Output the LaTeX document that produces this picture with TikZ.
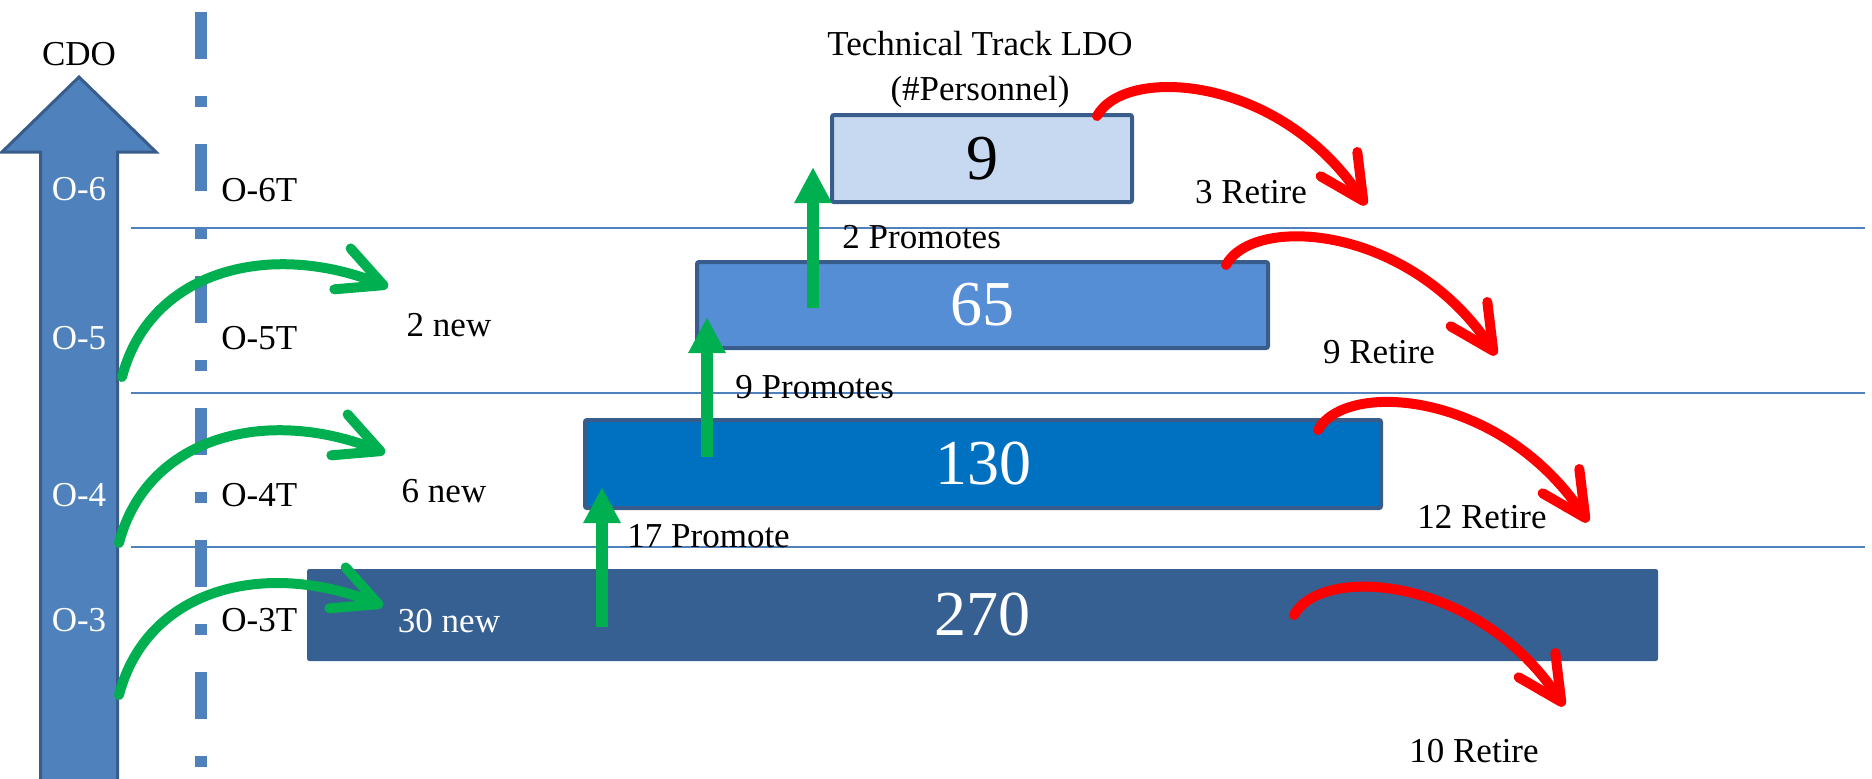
\documentclass[tikz,border=0pt]{standalone}
\usepackage{fontspec}
\setmainfont{Liberation Serif}
\usetikzlibrary{arrows.meta}
\definecolor{ablue}{HTML}{4F81BD}
\definecolor{bdark}{HTML}{385D8A}
\definecolor{gr}{HTML}{00B050}
\definecolor{rd}{HTML}{FF0000}
\definecolor{cnine}{HTML}{C6D9F1}
\definecolor{csixtyfive}{HTML}{558ED5}
\definecolor{conethirty}{HTML}{0070C0}
\definecolor{ctwoseventy}{HTML}{376092}
\begin{document}
\begin{tikzpicture}[x=0.5pt,y=-0.5pt,
  lbl/.style={font=\fontsize{17.5}{21}\selectfont, inner sep=0pt},
  num/.style={font=\fontsize{32}{36}\selectfont, inner sep=0pt},
  box/.style={draw=bdark, line width=2pt, rounded corners=1pt, inner sep=0pt},
  hline/.style={draw=ablue, line width=1pt},
  curvy/.style={line width=5pt, line cap=round, -{Straight Barb[length=22pt,width=22pt,round]}},
  uparrow/.style={draw=gr, line width=6pt, -{Triangle[length=18pt,width=17.5pt]}, fill=gr},
  ]
\useasboundingbox (0,0) rectangle (1872,778);
% horizontal level lines
\coordinate (l1a) at (131,228); \coordinate (l1b) at (1865,228);
\coordinate (l2a) at (131,393); \coordinate (l2b) at (1865,393);
\coordinate (l3a) at (131,547); \coordinate (l3b) at (1865,547);
\draw[hline] (l1a) -- (l1b);
\draw[hline] (l2a) -- (l2b);
\draw[hline] (l3a) -- (l3b);
% dash-dot vertical line
\coordinate (dtop) at (201,12); \coordinate (dbot) at (201,790);
\draw[draw=ablue, line width=6pt, dash pattern=on 23.5pt off 18.5pt on 5.5pt off 18.5pt] (dtop) -- (dbot);
% big CDO arrow
\draw[fill=ablue, draw=bdark, line width=1.5pt]
  (40.5,800) -- (40.5,152) -- (2,152) -- (79,77) -- (156,152) -- (117.5,152) -- (117.5,800) -- cycle;
\node[lbl, anchor=base] (cdo) at (79,65) {CDO};
\node[lbl, anchor=base, text=white] (o6) at (79,200) {O-6};
\node[lbl, anchor=base, text=white] (o5) at (79,349) {O-5};
\node[lbl, anchor=base, text=white] (o4) at (79,506) {O-4};
\node[lbl, anchor=base, text=white] (o3) at (79,631) {O-3};
\node[lbl, anchor=base west] (o6t) at (221,201) {O-6T};
\node[lbl, anchor=base west] (o5t) at (221,349) {O-5T};
\node[lbl, anchor=base west] (o4t) at (221,506) {O-4T};
\node[lbl, anchor=base west] (o3t) at (221,631) {O-3T};
% boxes
\node[box, num, fill=cnine, text=black, minimum width=150pt, minimum height=43.5pt] (b9) at (982,158.5) {9};
\node[box, num, fill=csixtyfive, text=white, minimum width=285.5pt, minimum height=43pt] (b65) at (982.5,305) {65};
\node[box, num, fill=conethirty, text=white, minimum width=398pt, minimum height=44pt] (b130) at (983,464) {130};
\node[box, num, fill=ctwoseventy, draw=ctwoseventy, line width=0.5pt, text=white, minimum width=675pt, minimum height=45.5pt] (b270) at (982.5,615) {270};
% titles
\node[lbl, anchor=base] (t1) at (980,55) {Technical Track LDO};
\node[lbl, anchor=base] (t2) at (980,100) {(\#Personnel)};
% labels
\node[lbl, anchor=base west] (p2) at (842,248) {2 Promotes};
\node[lbl, anchor=base west] (p9) at (735,398) {9 Promotes};
\node[lbl, anchor=base west] (p17) at (627,547) {17 Promote};
\node[lbl, anchor=base] (r3) at (1251,203) {3 Retire};
\node[lbl, anchor=base] (r9) at (1379,363) {9 Retire};
\node[lbl, anchor=base] (r12) at (1482,528) {12 Retire};
\node[lbl, anchor=base] (r10) at (1474,762) {10 Retire};
\node[lbl, anchor=base] (n2) at (449,336) {2 new};
\node[lbl, anchor=base] (n6) at (444,502) {6 new};
\node[lbl, anchor=base, text=white] (n30) at (449,632) {30 new};
% upward promote arrows
\coordinate (u1s) at (813,308); \coordinate (u1e) at (813,167);
\coordinate (u2s) at (707,457); \coordinate (u2e) at (707,317);
\coordinate (u3s) at (602,627); \coordinate (u3e) at (602,487);
\draw[uparrow] (u1s) -- (u1e);
\draw[uparrow] (u2s) -- (u2e);
\draw[uparrow] (u3s) -- (u3e);
% green curved arrows
\coordinate (g5s) at (122,377); \coordinate (g5e) at (388,287);
\coordinate (g4s) at (119,543); \coordinate (g4e) at (385,453);
\coordinate (g3s) at (119,695); \coordinate (g3e) at (383,606);
\draw[curvy, gr] (g5s) .. controls +(28,-107) and +(-118,-47) .. (g5e);
\draw[curvy, gr] (g4s) .. controls +(28,-107) and +(-118,-47) .. (g4e);
\draw[curvy, gr] (g3s) .. controls +(28,-107) and +(-118,-47) .. (g3e);
% red curved arrows
\coordinate (r1s) at (1097,116); \coordinate (r1e) at (1366,205);
\coordinate (r2s) at (1226,265); \coordinate (r2e) at (1496,355);
\coordinate (r3s) at (1318,430); \coordinate (r3e) at (1588,522);
\coordinate (r4s) at (1294,615); \coordinate (r4e) at (1564,706);
\draw[curvy, rd] (r1s) .. controls +(28,-51) and +(-86,-130) .. (r1e);
\draw[curvy, rd] (r2s) .. controls +(28,-51) and +(-86,-130) .. (r2e);
\draw[curvy, rd] (r3s) .. controls +(28,-51) and +(-86,-130) .. (r3e);
\draw[curvy, rd] (r4s) .. controls +(28,-51) and +(-86,-130) .. (r4e);
\end{tikzpicture}
\end{document}
